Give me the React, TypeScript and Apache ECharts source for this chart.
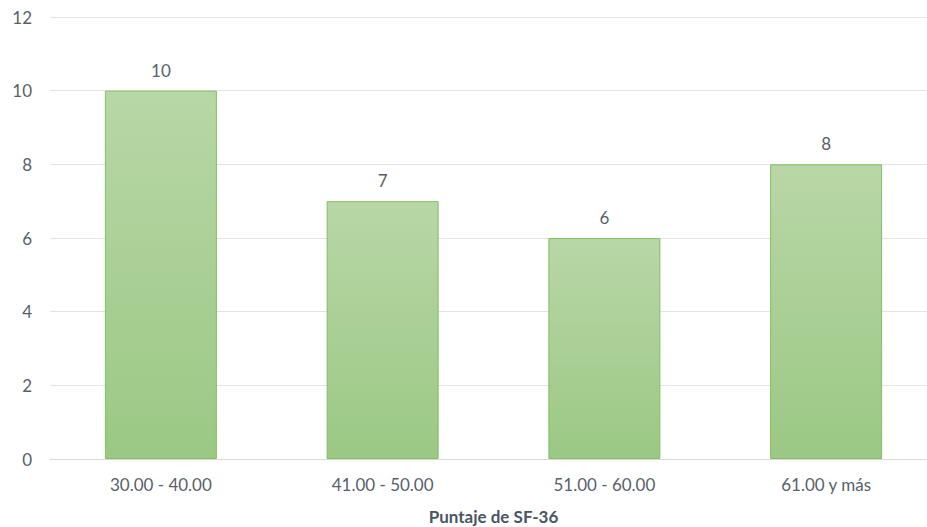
import React, { useEffect, useRef } from "react";
import * as echarts from "echarts";

const categories = ["30.00 - 40.00", "41.00 - 50.00", "51.00 - 60.00", "61.00 y más"];
const values = [10, 7, 6, 8];
const yTicks = { min: 0, max: 12, interval: 2 };
const xTitle = "Puntaje de SF-36";

export default function App() {
  const ref = useRef<HTMLDivElement>(null);
  useEffect(() => {
    if (!ref.current) return;
    const chart = echarts.init(ref.current, null, { renderer: "svg" });
    const textColor = "#595f6b";
    chart.setOption({
      animation: false,
      grid: { left: 50, right: -10, top: 17, bottom: 68, outerBoundsMode: "none", containLabel: false },
      xAxis: {
        type: "category",
        data: categories,
        name: xTitle,
        nameLocation: "middle",
        nameGap: 49,
        nameTextStyle: { color: "#4a5566", fontWeight: "bold", fontSize: 17, fontFamily: "Lato" },
        axisLine: { lineStyle: { color: "#d9d9d9", width: 1 } },
        axisTick: { show: false },
        axisLabel: { color: textColor, fontSize: 17, fontFamily: "Lato", margin: 17 },
      },
      yAxis: {
        type: "value",
        min: yTicks.min,
        max: yTicks.max,
        interval: yTicks.interval,
        axisLine: { show: false },
        axisTick: { show: false },
        axisLabel: { color: textColor, fontSize: 17, fontFamily: "Lato", margin: 18 },
        splitLine: { lineStyle: { color: "#e3e3e3", width: 1 } },
      },
      series: [
        {
          type: "bar",
          data: values,
          barWidth: "50.5%",
          itemStyle: {
            color: new echarts.graphic.LinearGradient(0, 0, 0, 1, [
              { offset: 0, color: "#b8d7a6" },
              { offset: 1, color: "#9bc884" },
            ]),
            borderColor: "#84bd62",
            borderWidth: 1,
          },
          label: {
            show: true,
            position: "top",
            distance: 12,
            color: textColor,
            fontSize: 17,
            fontFamily: "Lato",
          },
        },
      ],
    });
    return () => chart.dispose();
  }, []);
  return <div ref={ref} style={{ width: 927, height: 527, position: "absolute", left: 0, top: 0, background: "#fff" }} />;
}
